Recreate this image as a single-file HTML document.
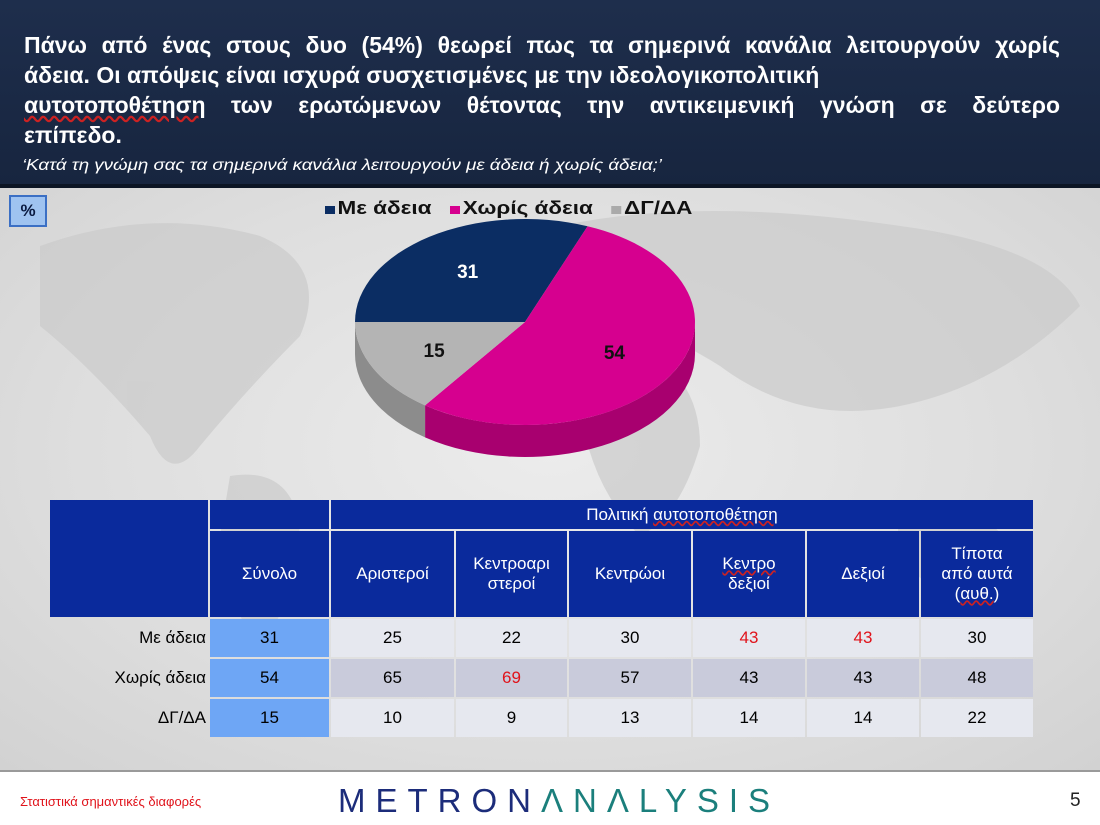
<!DOCTYPE html>
<html><head><meta charset="utf-8">
<style>
body{margin:0;width:1100px;height:825px;overflow:hidden;font-family:"Liberation Sans","DejaVu Sans",sans-serif;background:#fff;position:relative}
#bg{position:absolute;left:0;top:186px;width:1100px;height:584px;background:radial-gradient(ellipse at 50% 45%,#ececec 0%,#dedede 60%,#d2d2d2 100%);border-bottom:2px solid #9a9a9a}
#hdr{position:absolute;left:0;top:0;width:1100px;height:184px;background:linear-gradient(#1e2e4c,#17253f);border-bottom:4px solid #0c1524}
.tl{position:absolute;left:24px;width:1036px;color:#fff;font-size:23px;font-weight:bold;line-height:30px;white-space:nowrap}
.just{text-align:justify;text-align-last:justify}
#sub{position:absolute;left:22px;top:157px;color:#fff;font-size:16px;font-style:italic;transform:scaleX(1.17);transform-origin:left;white-space:nowrap}
#pct{position:absolute;left:9px;top:195px;width:34px;height:28px;background:#9fc3f0;border:2px solid #3b6fc4;font-weight:bold;font-size:17px;text-align:center;line-height:28px;color:#0a1a40}
#legend{position:absolute;left:325px;top:198px;font-weight:bold;font-size:18px;color:#111;white-space:nowrap;transform:scaleX(1.25);transform-origin:left}
#legend span.k{display:inline-block;width:8px;height:8px;margin-right:2px}
table{position:absolute;left:48px;top:498px;border-collapse:separate;border-spacing:2px;font-size:17px}
td{text-align:center;padding:0}
.h{background:#0a2a9c;color:#fff}
.r1 td{background:#e6e8ef;height:38px}
.r2 td{background:#c9cbdb;height:38px}
.r3 td{background:#e6e8ef;height:38px}
td.lab{text-align:right;background:transparent!important;padding-right:2px}
td.tot{background:#6ea6f5!important}
.red{color:#e0131b}
#foot1{position:absolute;left:20px;top:794px;color:#e0131b;font-size:13px}
#logo{position:absolute;left:338px;top:782px;font-size:33px;letter-spacing:10px;color:#1c2c7a}
#logo b{font-weight:normal;color:#1b7f7c}
#pg{position:absolute;left:1070px;top:790px;font-size:19px;color:#222}
u.w{text-decoration-color:#c22;text-decoration-style:wavy}
</style></head><body>
<div id="bg">
<svg width="1100" height="584" style="position:absolute;left:0;top:0">
<g fill="#cbcbcb" opacity="0.7">
<path d="M40 60 Q150 20 260 50 Q330 80 300 150 Q250 200 200 260 Q170 300 150 250 Q90 180 40 140Z"/>
<path d="M230 290 Q290 280 300 340 Q290 420 260 470 Q230 420 220 350Z"/>
<path d="M560 40 Q700 10 900 40 Q1050 60 1080 120 Q1000 200 900 220 Q800 240 720 180 Q640 130 560 120Z"/>
<path d="M600 150 Q700 170 700 260 Q680 330 640 350 Q590 300 580 220Z"/>
<path d="M900 330 Q980 310 1010 360 Q990 410 930 400 Q890 370 900 330Z"/>
</g></svg>
</div>
<div id="hdr">
<div>
<div class="tl just" style="top:30px">Πάνω από ένας στους δυο (54%) θεωρεί πως τα σημερινά κανάλια λειτουργούν χωρίς</div>
<div class="tl" style="top:60px">άδεια. Οι απόψεις είναι ισχυρά συσχετισμένες με την ιδεολογικοπολιτική</div>
<div class="tl just" style="top:90px"><u class="w">αυτοτοποθέτηση</u> των ερωτώμενων θέτοντας την αντικειμενική γνώση σε δεύτερο</div>
<div class="tl" style="top:120px">επίπεδο.</div>
</div>
<div id="sub">‘Κατά τη γνώμη σας τα σημερινά κανάλια λειτουργούν με άδεια ή χωρίς άδεια;’</div>
</div>
<div id="pct">%</div>
<div id="legend">
<span><span class="k" style="background:#0b2d63"></span>Με άδεια</span>&nbsp;&nbsp;
<span><span class="k" style="background:#d6008f"></span>Χωρίς άδεια</span>&nbsp;&nbsp;
<span><span class="k" style="background:#aaa"></span>ΔΓ/ΔΑ</span>
</div>
<svg id="pie" width="1100" height="825" style="position:absolute;left:0;top:0"></svg>

<table>
<tr style="height:29px"><td rowspan="2" class="h" style="width:158px"></td><td class="h" style="width:119px"></td><td class="h" colspan="6">Πολιτική <u class="w">αυτοτοποθέτηση</u></td></tr>
<tr style="height:86px" class="h"><td class="h">Σύνολο</td><td class="h" style="width:123px">Αριστεροί</td><td class="h" style="width:111px">Κεντροαρι<br>στεροί</td><td class="h" style="width:122px">Κεντρώοι</td><td class="h" style="width:112px"><u class="w">Κεντρο</u><br>δεξιοί</td><td class="h" style="width:112px">Δεξιοί</td><td class="h" style="width:112px">Τίποτα<br>από αυτά<br>(<u class="w">αυθ.</u>)</td></tr>
<tr class="r1"><td class="lab">Με άδεια</td><td class="tot">31</td><td>25</td><td>22</td><td>30</td><td class="red">43</td><td class="red">43</td><td>30</td></tr>
<tr class="r2"><td class="lab">Χωρίς άδεια</td><td class="tot">54</td><td>65</td><td class="red">69</td><td>57</td><td>43</td><td>43</td><td>48</td></tr>
<tr class="r3"><td class="lab">ΔΓ/ΔΑ</td><td class="tot">15</td><td>10</td><td>9</td><td>13</td><td>14</td><td>14</td><td>22</td></tr>
</table>

<div id="foot1">Στατιστικά σημαντικές διαφορές</div>
<div id="logo">METRON<b>ΛNΛLYSIS</b></div>
<div id="pg">5</div>

<script>
const categories = ["Με άδεια","Χωρίς άδεια","ΔΓ/ΔΑ"];
const values = [31,54,15];
const sliceColors = ["#0b2d63","#d6008f","#b4b4b4"];
const sideColors = ["#061a3c","#a8006f","#8c8c8c"];
const labelColors = ["#fff","#111","#111"];

const svg = document.getElementById('pie');
const NS = 'http://www.w3.org/2000/svg';
const cx=525, cy=322, rx=170, ry=103, depth=32;
const total = values.reduce((a,b)=>a+b,0);
const startDeg = 180;
function pt(t, dy){ return [cx+rx*Math.cos(t), cy+ry*Math.sin(t)+(dy||0)]; }
function rad(d){return d*Math.PI/180;}
const slices=[]; let acc=0;
values.forEach((v,i)=>{ const a0=startDeg+acc/total*360; acc+=v; const a1=startDeg+acc/total*360; slices.push([a0,a1]); });
slices.forEach((s,i)=>{
  let a0=s[0], a1=s[1];
  for (const off of [0,360,-360,720]){
    const lo=Math.max(a0+off,0), hi=Math.min(a1+off,180);
    if (hi>lo){
      const p0=pt(rad(lo)), p1=pt(rad(hi));
      const d=`M${p0[0]},${p0[1]} A${rx},${ry} 0 0 1 ${p1[0]},${p1[1]} L${p1[0]},${p1[1]+depth} A${rx},${ry} 0 0 0 ${p0[0]},${p0[1]+depth} Z`;
      const p=document.createElementNS(NS,'path');
      p.setAttribute('d',d); p.setAttribute('fill',sideColors[i]);
      
      
      svg.appendChild(p);
    }
  }
});
slices.forEach((s,i)=>{
  const p0=pt(rad(s[0])), p1=pt(rad(s[1]));
  const large=(s[1]-s[0])>180?1:0;
  const p=document.createElementNS(NS,'path');
  p.setAttribute('d',`M${cx},${cy} L${p0[0]},${p0[1]} A${rx},${ry} 0 ${large} 1 ${p1[0]},${p1[1]} Z`);
  p.setAttribute('fill',sliceColors[i]);
  
  
  svg.appendChild(p);
  const m=rad((s[0]+s[1])/2);
  const t=document.createElementNS(NS,'text');
  t.setAttribute('x',cx+rx*0.6*Math.cos(m)); t.setAttribute('y',cy+ry*0.6*Math.sin(m)+7);
  t.setAttribute('text-anchor','middle'); t.setAttribute('font-size','19'); t.setAttribute('font-weight','bold');
  t.setAttribute('fill',labelColors[i]); t.setAttribute('font-family','Liberation Sans, sans-serif');
  t.textContent=values[i];
  
  
  svg.appendChild(t);
});
</script>
</body></html>
